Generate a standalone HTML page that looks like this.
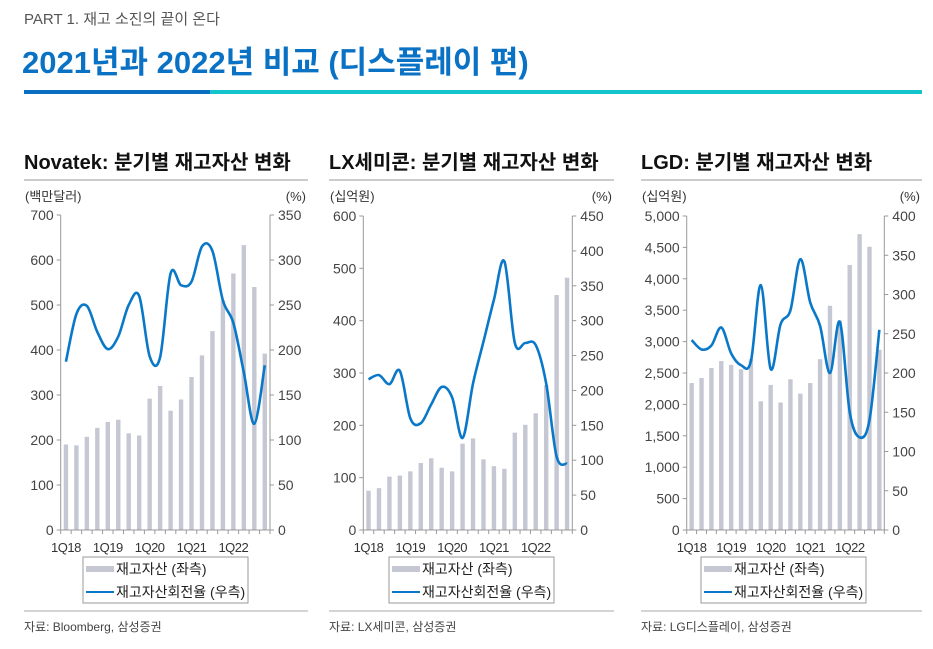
<!DOCTYPE html>
<html><head><meta charset="utf-8">
<style>
body{margin:0;width:933px;height:644px;background:#fff;overflow:hidden;font-family:"Liberation Sans","Noto Sans CJK KR",sans-serif;}
svg text{font-family:"Liberation Sans","Noto Sans CJK KR",sans-serif;}
</style></head>
<body>
<svg id="s" width="933" height="644" xmlns="http://www.w3.org/2000/svg">
<text x="24" y="24" font-size="15" fill="#555">PART 1. 재고 소진의 끝이 온다</text>
<text x="22" y="73" font-size="31" font-weight="bold" fill="#0a72c4">2021년과 2022년 비교 (디스플레이 편)</text>
<rect x="24" y="90" width="186" height="4" fill="#0a6fc2"/>
<rect x="210" y="90" width="712" height="4" fill="#14c4cc"/>
</svg>
<script>
const categories=["1Q18","2Q18","3Q18","4Q18","1Q19","2Q19","3Q19","4Q19","1Q20","2Q20","3Q20","4Q20","1Q21","2Q21","3Q21","4Q21","1Q22","2Q22","3Q22","4Q22"];
const xLabels=["1Q18","1Q19","1Q20","1Q21","1Q22"];
const novatekInv=[190,188,207,227,240,245,215,210,292,320,265,290,340,388,442,510,570,633,540,392];
const novatekTurn=[187,240,249,220,201,215,250,260,193,192,285,272,276,315,310,255,230,175,118,183];
const lxInv=[75,80,102,104,112,128,137,119,112,165,175,135,122,117,186,201,223,277,449,482];
const lxTurn=[216,222,209,228,160,153,180,205,190,132,210,270,330,385,268,268,265,210,105,95];
const lgdInv=[2340,2420,2580,2690,2630,2560,2720,2050,2310,2030,2400,2170,2340,2720,3570,3340,4220,4710,4510,2870];
const lgdTurn=[242,230,235,258,225,210,215,312,205,262,280,345,290,260,200,265,150,118,140,255];
const novatekLeftTicks=[0,100,200,300,400,500,600,700];
const novatekRightTicks=[0,50,100,150,200,250,300,350];
const lxLeftTicks=[0,100,200,300,400,500,600];
const lxRightTicks=[0,50,100,150,200,250,300,350,400,450];
const lgdLeftTicks=[0,500,1000,1500,2000,2500,3000,3500,4000,4500,5000];
const lgdRightTicks=[0,50,100,150,200,250,300,350,400];

const NS="http://www.w3.org/2000/svg";
const svg=document.getElementById('s');
function mk(tag,attrs,parent){const e=document.createElementNS(NS,tag);for(const k in attrs)e.setAttribute(k,attrs[k]);(parent||svg).appendChild(e);return e;}
function fmt(v){return v.toLocaleString('en-US');}

function chart(o){
  const g=mk('g',{});
  
  
  const t=mk('text',{x:o.sx,y:169,'font-size':20,'font-weight':'bold',fill:'#111'},g);t.textContent=o.title;
  
  
  const r1=mk('line',{x1:o.sx,x2:o.ex,y1:180,y2:180,stroke:'#bbb','stroke-width':1.5},g);
  
  
  const L=o.L,R=o.R,T=o.T,B=530;
  const yl=v=>B-(v/o.lmax)*(B-T);
  const yr=v=>B-(v/o.rmax)*(B-T);
  const n=categories.length,bw=(R-L)/n;
  const xc=i=>L+bw*(i+0.5);
  const u1=mk('text',{x:o.sx+1,y:201,'font-size':13,fill:'#333'},g);u1.textContent=o.unit;
  
  
  const u2=mk('text',{x:o.ex-2,y:201,'font-size':13,fill:'#333','text-anchor':'end'},g);u2.textContent='(%)';
  
  
  o.lt.forEach(v=>{const tx=mk('text',{x:L-7,y:yl(v)+5,'font-size':14,fill:'#444','text-anchor':'end'},g);tx.textContent=fmt(v);
    
    
    mk('line',{x1:L-4,x2:L,y1:yl(v),y2:yl(v),stroke:'#999'},g);});
  o.rt.forEach(v=>{const tx=mk('text',{x:R+8,y:yr(v)+5,'font-size':14,fill:'#444'},g);tx.textContent=fmt(v);
    
    
    mk('line',{x1:R,x2:R+4,y1:yr(v),y2:yr(v),stroke:'#999'},g);});
  o.inv.forEach((v,i)=>{const b=mk('rect',{x:xc(i)-2.2,y:yl(v),width:4.4,height:B-yl(v),fill:'#c5c7d3'},g);
    
    });
  mk('line',{x1:L,x2:L,y1:T,y2:B,stroke:'#999'},g);
  mk('line',{x1:R,x2:R,y1:T,y2:B,stroke:'#999'},g);
  mk('line',{x1:L,x2:R,y1:B,y2:B,stroke:'#999'},g);
  for(let i=0;i<=n;i++)mk('line',{x1:L+bw*i,x2:L+bw*i,y1:B,y2:B+4,stroke:'#999'},g);
  categories.forEach((c,i)=>{if(xLabels.includes(c)){const tx=mk('text',{x:xc(i),y:552,'font-size':13,fill:'#333','text-anchor':'middle','letter-spacing':'-0.5'},g);tx.textContent=c;
    
    }});
  const pts=o.turn.map((v,i)=>[xc(i),yr(v)]);
  let d='M'+pts[0][0]+','+pts[0][1];
  for(let i=0;i<pts.length-1;i++){const p0=pts[Math.max(0,i-1)],p1=pts[i],p2=pts[i+1],p3=pts[Math.min(pts.length-1,i+2)];
    d+=' C'+(p1[0]+(p2[0]-p0[0])/6)+','+(p1[1]+(p2[1]-p0[1])/6)+' '+(p2[0]-(p3[0]-p1[0])/6)+','+(p2[1]-(p3[1]-p1[1])/6)+' '+p2[0]+','+p2[1];}
  const ln=mk('path',{d:d,fill:'none',stroke:'#0a78c8','stroke-width':2.6},g);
  
  
  const lg=mk('g',{},g);
  
  
  mk('rect',{x:o.lx,y:557,width:165,height:46,fill:'#fff',stroke:'#999'},lg);
  mk('rect',{x:o.lx+3,y:566,width:28,height:6,fill:'#c5c7d3'},lg);
  const a=mk('text',{x:o.lx+33,y:574,'font-size':14,fill:'#222'},lg);a.textContent='재고자산 (좌측)';
  mk('line',{x1:o.lx+3,x2:o.lx+31,y1:592,y2:592,stroke:'#0a78c8','stroke-width':2},lg);
  const b2=mk('text',{x:o.lx+33,y:597,'font-size':14,fill:'#222'},lg);b2.textContent='재고자산회전율 (우측)';
  mk('line',{x1:o.sx,x2:o.ex,y1:611,y2:611,stroke:'#aaa'},g);
  const s=mk('text',{x:o.sx,y:631,'font-size':12,fill:'#444'},g);s.textContent=o.src;
  
  
}
chart({id:'novatek',title:'Novatek: 분기별 재고자산 변화',unit:'(백만달러)',sx:24,ex:308,L:60.7,R:270,T:215,lmax:700,rmax:350,lt:novatekLeftTicks,rt:novatekRightTicks,inv:novatekInv,turn:novatekTurn,lx:83,src:'자료: Bloomberg, 삼성증권'});
chart({id:'lx',title:'LX세미콘: 분기별 재고자산 변화',unit:'(십억원)',sx:329,ex:614,L:363.3,R:572.3,T:216,lmax:600,rmax:450,lt:lxLeftTicks,rt:lxRightTicks,inv:lxInv,turn:lxTurn,lx:389,src:'자료: LX세미콘, 삼성증권'});
chart({id:'lgd',title:'LGD: 분기별 재고자산 변화',unit:'(십억원)',sx:641,ex:922,L:686.7,R:884.3,T:216,lmax:5000,rmax:400,lt:lgdLeftTicks,rt:lgdRightTicks,inv:lgdInv,turn:lgdTurn,lx:701,src:'자료: LG디스플레이, 삼성증권'});
</script>
</body></html>
